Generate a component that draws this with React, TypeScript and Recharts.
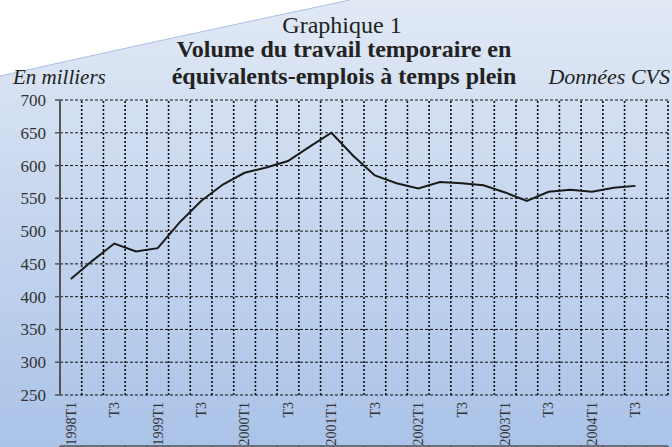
import { LineChart, Line, XAxis, YAxis, CartesianGrid, ReferenceLine } from "recharts";

const quarters = [
  "1998T1", "1998T2", "1998T3", "1998T4",
  "1999T1", "1999T2", "1999T3", "1999T4",
  "2000T1", "2000T2", "2000T3", "2000T4",
  "2001T1", "2001T2", "2001T3", "2001T4",
  "2002T1", "2002T2", "2002T3", "2002T4",
  "2003T1", "2003T2", "2003T3", "2003T4",
  "2004T1", "2004T2", "2004T3", "2004T4",
];

// volume in thousands, CVS
const volume = [
  427, 455, 481, 469, 474, 513, 546, 571,
  589, 597, 607, 629, 650, 615, 585, 573,
  565, 575, 573, 570, 559, 546, 560, 563,
  560, 566, 569, null,
];

const yTicks = [250, 300, 350, 400, 450, 500, 550, 600, 650, 700];
const boundaryTicks = quarters.map((_, i) => i).concat([quarters.length]);

const data = quarters.map((q, i) => ({ q, i, v: volume[i] }));

const serif = "'Liberation Serif', 'Times New Roman', serif";

function quarterLabel(q: string) {
  if (q.endsWith("T1")) return q;
  if (q.endsWith("T3")) return "T3";
  return "";
}

function RotatedTick(props: any) {
  const { x, payload } = props;
  const label = quarterLabel(payload.value);
  if (!label) return null;
  return (
    <text
      x={x}
      y={402}
      transform={`rotate(-90, ${x}, 402)`}
      textAnchor="end"
      dy="0.35em"
      fill="#333"
      style={{ fontFamily: serif, fontSize: 14 }}
    >
      {label}
    </text>
  );
}

const NoLabel = () => <g />;

export default function App() {
  return (
    <div
      style={{
        position: "absolute",
        left: 0,
        top: 0,
        width: 672,
        height: 447,
        overflow: "hidden",
        background: "linear-gradient(to bottom, #e1e9f5 0%, #c8d7ef 45%, #aac3e8 100%)",
        fontFamily: serif,
        color: "#222",
      }}
    >
      <svg width={672} height={447} style={{ position: "absolute", left: 0, top: 0 }}>
        <path d="M0,0 L350,0 Q170,38 0,76 Z" fill="#ffffff" />
        <path d="M350,0 Q170,38 0,76" fill="none" stroke="#a9c0e2" strokeWidth={1} />
      </svg>

      <div style={{ position: "absolute", left: 0, width: 684, top: 13, textAlign: "center", fontSize: 24, lineHeight: 1 }}>
        Graphique 1
      </div>
      <div style={{ position: "absolute", left: 0, width: 688, top: 37, textAlign: "center", fontSize: 24, fontWeight: "bold", lineHeight: 1 }}>
        Volume du travail temporaire en
      </div>
      <div style={{ position: "absolute", left: 0, width: 688, top: 64, textAlign: "center", fontSize: 24, fontWeight: "bold", lineHeight: 1 }}>
        équivalents-emplois à temps plein
      </div>
      <div style={{ position: "absolute", left: 13, top: 67, fontSize: 21, fontStyle: "italic", lineHeight: 1 }}>
        En milliers
      </div>
      <div style={{ position: "absolute", right: 2, top: 66, fontSize: 22, fontStyle: "italic", lineHeight: 1 }}>
        Données CVS
      </div>

      <div style={{ position: "absolute", left: 0, top: 0 }}>
        <LineChart width={672} height={447} data={data} margin={{ top: 100, right: 4, bottom: 0, left: 0 }}>
          <CartesianGrid
            vertical={false}
            stroke="#111"
            strokeDasharray="3 2"
            fill="none"
          />
          {boundaryTicks.slice(1).map((t) => (
            <ReferenceLine
              key={t}
              xAxisId="grid"
              x={t}
              stroke="#111"
              strokeWidth={1.6}
              strokeDasharray="2 2"
            />
          ))}
          <XAxis
            xAxisId="grid"
            dataKey="i"
            type="number"
            domain={[0, quarters.length]}
            ticks={boundaryTicks}
            interval={0}
            height={1}
            tick={<NoLabel />}
            tickSize={5}
            stroke="#6b6f78"
            axisLine={{ stroke: "#6b6f78", strokeWidth: 2 }}
            tickLine={{ stroke: "#555", strokeWidth: 1.5 }}
          />
          <XAxis
            xAxisId="cat"
            dataKey="q"
            scale="band"
            interval={0}
            height={51}
            axisLine={false}
            tickLine={false}
            tick={<RotatedTick />}
          />
          <YAxis
            domain={[250, 700]}
            ticks={yTicks}
            interval={0}
            width={60}
            tickSize={5}
            stroke="#555"
            axisLine={{ stroke: "#555", strokeWidth: 2 }}
            tickLine={{ stroke: "#555", strokeWidth: 1.5 }}
            tick={{ fill: "#333", fontFamily: serif, fontSize: 17 }}
            tickMargin={9}
          />
          <Line
            xAxisId="cat"
            dataKey="v"
            stroke="#1a1a1a"
            strokeWidth={2}
            dot={false}
            isAnimationActive={false}
            connectNulls={false}
          />
        </LineChart>
      </div>
    </div>
  );
}
